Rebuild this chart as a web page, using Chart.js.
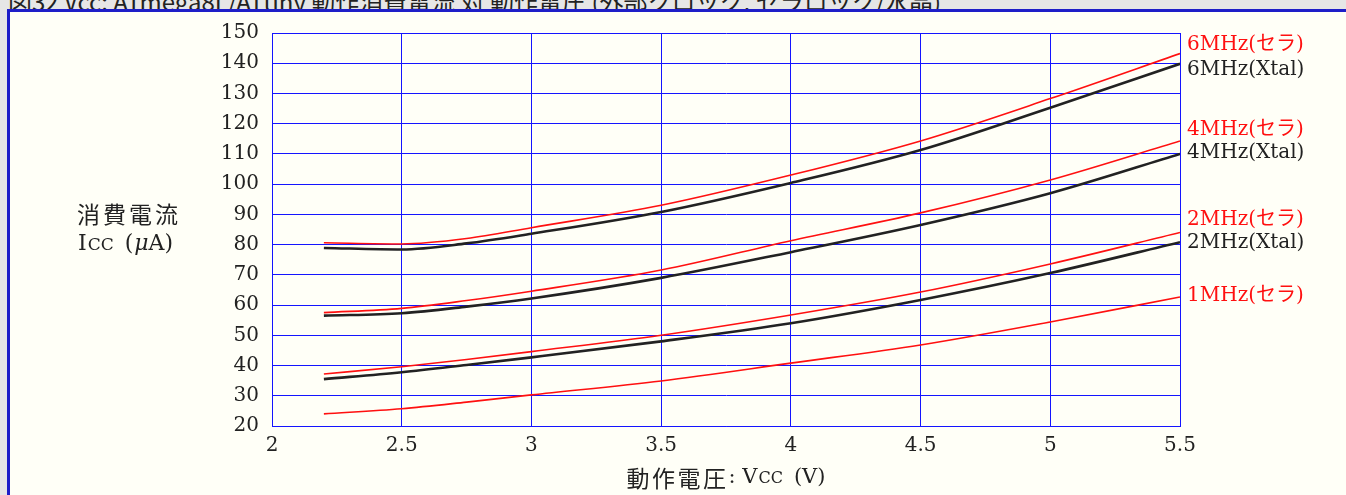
<!DOCTYPE html>
<html>
<head>
<meta charset="utf-8">
<script src="https://cdn.jsdelivr.net/npm/chart.js@4.4.0/dist/chart.umd.min.js"></script>
<style>
  html, body { margin: 0; padding: 0; overflow: hidden; }
  body { width: 1346px; height: 495px; background: #e6e6e6; position: relative; }
  #caption {
    position: absolute; left: 8px; top: -17px; white-space: nowrap;
    font: 24px "Noto Sans CJK JP", "Noto Sans", sans-serif; color: #222;
  }
  #chart { position: absolute; left: 0; top: 0; }
</style>
</head>
<body>
<div id="caption">図32 Vcc: ATmega8L/ATtiny 動作消費電流 対 動作電圧 (外部クロック, セラロック/水晶)</div>
<canvas id="chart" width="1346" height="495"></canvas>
<script>
/* ---------- data ---------- */
const voltage = [2.2, 2.5, 2.75, 3.0, 3.5, 4.0, 4.5, 5.0, 5.5];

const cer6MHz  = [80.6, 80.2, 82.0, 85.6, 93.0, 103.0, 114.3, 128.3, 143.2];
const xtal6MHz = [78.9, 78.4, 80.4, 83.6, 90.8, 100.4, 111.3, 125.3, 139.8];
const cer4MHz  = [57.5, 58.9, 61.5, 64.6, 71.6, 81.3, 90.5, 101.4, 114.3];
const xtal4MHz = [56.5, 57.3, 59.5, 62.2, 69.0, 77.5, 86.5, 97.0, 110.0];
const cer2MHz  = [37.2, 39.6, 42.0, 44.6, 50.0, 56.7, 64.3, 73.6, 84.0];
const xtal2MHz = [35.5, 37.8, 40.2, 42.7, 48.0, 54.0, 61.7, 70.6, 80.8];
const cer1MHz  = [24.0, 25.7, 27.9, 30.3, 34.9, 40.8, 46.8, 54.4, 62.7];

const seriesLabels = ['6MHz(セラ)', '6MHz(Xtal)', '4MHz(セラ)', '4MHz(Xtal)', '2MHz(セラ)', '2MHz(Xtal)', '1MHz(セラ)'];
const xTicks = [2, 2.5, 3, 3.5, 4, 4.5, 5, 5.5];
const yTicks = [20, 30, 40, 50, 60, 70, 80, 90, 100, 110, 120, 130, 140, 150];

const SERIF = "'DejaVu Serif', 'Noto Sans CJK JP', serif";
const RED = '#ff1010';
const BLACK = '#222222';
const BLUE = '#1414ff';

function pts(values) {
    return values.map((v, i) => ({ x: voltage[i], y: v }));
}

function line(label, values, isXtal, labelOffset) {
    return {
        label: label,
        data: pts(values),
        borderColor: isXtal ? BLACK : RED,
        borderWidth: isXtal ? 2.6 : 1.6,
        pointRadius: 0,
        fill: false,
        cubicInterpolationMode: 'monotone',
        labelOffset: labelOffset
    };
}

// draw a row of text pieces with different fonts
function drawRuns(ctx, runs, x, y, align) {
    let total = 0;
    runs.forEach(r => {
        ctx.font = r.font;
        r.w = (r.step ? r.step * r.text.length : ctx.measureText(r.text).width) + (r.gap || 0);
        total += r.w;
    });
    let cx = align === 'center' ? x - total / 2 : x;
    ctx.textBaseline = 'middle';
    ctx.textAlign = 'left';
    runs.forEach(r => {
        ctx.font = r.font;
        ctx.fillStyle = '#222';
        const sx = cx + (r.gap || 0);
        if (r.step) {
            [...r.text].forEach((ch, i) => ctx.fillText(ch, sx + i * r.step, y + (r.dy || 0)));
        } else {
            ctx.fillText(r.text, sx, y + (r.dy || 0));
        }
        cx += r.w;
    });
}

// page frame (off-white panel with blue left/top edge)
const framePanel = {
    id: 'framePanel',
    beforeDraw(chart) {
        const ctx = chart.ctx;
        ctx.save();
        ctx.fillStyle = '#fffff7';
        ctx.fillRect(7, 9, chart.width, chart.height);
        ctx.fillStyle = '#1e1ec8';
        ctx.fillRect(7, 9, 3, chart.height);
        ctx.fillRect(7, 9, chart.width, 3);
        ctx.restore();
    }
};

const extraText = {
    id: 'extraText',
    afterDraw(chart) {
        const ctx = chart.ctx;
        const area = chart.chartArea;
        const yScale = chart.scales.y;
        ctx.save();

        // curve names at the right end
        ctx.textBaseline = 'middle';
        ctx.textAlign = 'left';
        ctx.font = '20px ' + SERIF;
        chart.data.datasets.forEach(ds => {
            const last = ds.data[ds.data.length - 1].y;
            ctx.fillStyle = ds.borderColor;
            ctx.fillText(ds.label, area.right + 7, yScale.getPixelForValue(last) + ds.labelOffset);
        });

        // y axis title (two horizontal lines)
        drawRuns(ctx, [{ text: '消費電流', font: "23px 'Noto Sans CJK JP'", step: 26 }], 77, yScale.getPixelForValue(90));
        drawRuns(ctx, [
            { text: 'I', font: '22px ' + SERIF },
            { text: 'CC', font: '17px ' + SERIF, dy: 1, gap: 1 },
            { text: '(', font: '22px ' + SERIF, gap: 11 },
            { text: 'μ', font: 'italic 22px ' + SERIF, gap: 1 },
            { text: 'A)', font: '22px ' + SERIF }
        ], 78, yScale.getPixelForValue(80));

        // x axis title
        drawRuns(ctx, [
            { text: '動作電圧', font: "23px 'Noto Sans CJK JP'", step: 25.5 },
            { text: ': V', font: '21px ' + SERIF },
            { text: 'CC', font: '16px ' + SERIF, dy: 1, gap: 1 },
            { text: '(V)', font: '21px ' + SERIF, gap: 11 }
        ], (area.left + area.right) / 2, 478, 'center');

        ctx.restore();
    }
};

new Chart(document.getElementById('chart'), {
    type: 'line',
    data: {
        datasets: [
            line(seriesLabels[0], cer6MHz, false, -9),
            line(seriesLabels[1], xtal6MHz, true, 6),
            line(seriesLabels[2], cer4MHz, false, -11),
            line(seriesLabels[3], xtal4MHz, true, -1),
            line(seriesLabels[4], cer2MHz, false, -13),
            line(seriesLabels[5], xtal2MHz, true, 1),
            line(seriesLabels[6], cer1MHz, false, -1)
        ]
    },
    options: {
        responsive: false,
        animation: false,
        devicePixelRatio: 1,
        layout: { padding: { left: 0, right: 166, top: 33, bottom: 0 } },
        plugins: { legend: { display: false }, tooltip: { enabled: false } },
        scales: {
            x: {
                type: 'linear',
                min: xTicks[0],
                max: xTicks[xTicks.length - 1],
                afterFit: s => { s.height = 69; },
                afterBuildTicks: s => { s.ticks = xTicks.map(v => ({ value: v })); },
                grid: { color: BLUE, lineWidth: 1, drawTicks: false },
                border: { color: BLUE, width: 1 },
                ticks: {
                    color: '#222', padding: 8, font: { family: SERIF, size: 20 },
                    callback: v => String(v)
                }
            },
            y: {
                type: 'linear',
                min: yTicks[0],
                max: yTicks[yTicks.length - 1],
                afterFit: s => { s.width = 272; },
                afterBuildTicks: s => { s.ticks = yTicks.map(v => ({ value: v })); },
                grid: { color: BLUE, lineWidth: 1, drawTicks: false },
                border: { color: BLUE, width: 1 },
                ticks: {
                    color: '#222', padding: 13, font: { family: SERIF, size: 20 },
                    callback: v => String(v)
                }
            }
        }
    },
    plugins: [framePanel, extraText]
});
</script>
</body>
</html>
